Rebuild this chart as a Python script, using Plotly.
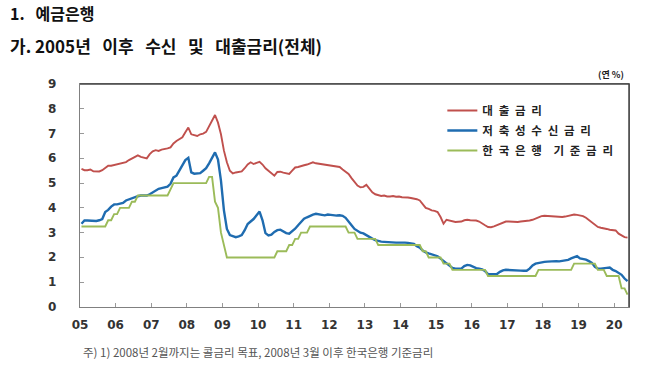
import plotly.graph_objects as go

# ---- data (monthly, Jan 2005 – May 2020) ----
year_labels = ["05", "06", "07", "08", "09", "10", "11", "12", "13", "14",
               "15", "16", "17", "18", "19", "20"]
y_ticks = [0, 1, 2, 3, 4, 5, 6, 7, 8, 9]
n_months = 185

loan_rate = [  # 대출금리
    5.57, 5.52, 5.52, 5.55, 5.48, 5.46, 5.47, 5.52, 5.62, 5.70, 5.70, 5.73,
    5.77, 5.78, 5.80, 5.85, 5.93, 6.00, 6.06, 6.12, 6.06, 6.03, 6.00, 6.17,
    6.28, 6.33, 6.30, 6.35, 6.37, 6.40, 6.44, 6.60, 6.70, 6.77, 6.85, 7.05,
    7.24, 6.97, 6.92, 6.90, 6.97, 7.00, 7.07, 7.30, 7.55, 7.75, 7.44, 6.97,
    6.31, 5.84, 5.50, 5.39, 5.43, 5.45, 5.47, 5.60, 5.75, 5.84, 5.77, 5.82,
    5.86, 5.75, 5.60, 5.50, 5.40, 5.30, 5.45, 5.46, 5.42, 5.38, 5.37, 5.50,
    5.63, 5.65, 5.70, 5.72, 5.75, 5.80, 5.84, 5.80, 5.78, 5.76, 5.75, 5.74,
    5.72, 5.70, 5.68, 5.65, 5.55, 5.45, 5.37, 5.20, 5.05, 4.90, 4.83, 4.85,
    4.93, 4.80, 4.63, 4.55, 4.50, 4.48, 4.50, 4.46, 4.46, 4.48, 4.45, 4.46,
    4.43, 4.44, 4.42, 4.40, 4.39, 4.35, 4.30, 4.15, 4.00, 3.96, 3.90, 3.88,
    3.83, 3.63, 3.36, 3.52, 3.48, 3.45, 3.43, 3.44, 3.45, 3.50, 3.52, 3.50,
    3.50, 3.49, 3.45, 3.39, 3.30, 3.23, 3.22, 3.25, 3.30, 3.36, 3.40, 3.45,
    3.45, 3.44, 3.43, 3.43, 3.45, 3.46, 3.45, 3.49, 3.52, 3.58, 3.64, 3.67,
    3.68, 3.67, 3.67, 3.66, 3.65, 3.63, 3.63, 3.65, 3.68, 3.70, 3.73, 3.72,
    3.70, 3.67, 3.60, 3.50, 3.40, 3.30, 3.23, 3.20, 3.16, 3.15, 3.12, 3.10,
    3.09, 2.96, 2.88, 2.82, 2.80,
]

deposit_rate = [  # 저축성수신금리
    3.36, 3.49, 3.49, 3.48, 3.47, 3.47, 3.50, 3.55, 3.83, 3.92, 4.05, 4.14,
    4.14, 4.17, 4.20, 4.30, 4.35, 4.40, 4.45, 4.47, 4.50, 4.50, 4.50, 4.55,
    4.63, 4.72, 4.77, 4.80, 4.83, 4.86, 4.97, 5.23, 5.30, 5.50, 5.75, 5.93,
    6.02, 5.43, 5.38, 5.38, 5.40, 5.50, 5.60, 5.80, 6.05, 6.24, 5.95, 5.10,
    3.90, 3.15, 2.90, 2.85, 2.82, 2.85, 2.90, 3.10, 3.35, 3.45, 3.55, 3.70,
    3.85, 3.50, 2.98, 2.89, 2.92, 3.03, 3.10, 3.12, 3.05, 2.98, 2.96, 3.05,
    3.16, 3.30, 3.45, 3.56, 3.62, 3.68, 3.73, 3.76, 3.75, 3.72, 3.70, 3.73,
    3.72, 3.70, 3.69, 3.70, 3.68, 3.60, 3.43, 3.30, 3.15, 3.07, 3.00, 2.97,
    2.89, 2.82, 2.76, 2.70, 2.66, 2.64, 2.63, 2.62, 2.60, 2.58, 2.60, 2.60,
    2.61, 2.60, 2.59, 2.57, 2.55, 2.45, 2.40, 2.28, 2.20, 2.16, 2.12, 2.09,
    2.05, 1.95, 1.85, 1.75, 1.65, 1.58, 1.55, 1.55, 1.55, 1.65, 1.70, 1.68,
    1.62, 1.57, 1.55, 1.52, 1.45, 1.33, 1.32, 1.31, 1.33, 1.42, 1.48, 1.50,
    1.50, 1.50, 1.49, 1.48, 1.47, 1.46, 1.46, 1.55, 1.68, 1.75, 1.78, 1.80,
    1.82, 1.83, 1.84, 1.86, 1.85, 1.84, 1.85, 1.88, 1.90, 1.96, 2.00, 2.05,
    1.96, 1.94, 1.91, 1.85, 1.78, 1.62, 1.55, 1.55, 1.55, 1.58, 1.59, 1.50,
    1.45, 1.38, 1.30, 1.15, 1.04,
]

base_rate = [  # 한국은행 기준금리 (2008.2월까지 콜금리 목표)
    3.25, 3.25, 3.25, 3.25, 3.25, 3.25, 3.25, 3.25, 3.25, 3.50, 3.50, 3.75,
    3.75, 4.00, 4.00, 4.00, 4.00, 4.25, 4.25, 4.50, 4.50, 4.50, 4.50, 4.50,
    4.50, 4.50, 4.50, 4.50, 4.50, 4.50, 4.75, 5.00, 5.00, 5.00, 5.00, 5.00,
    5.00, 5.00, 5.00, 5.00, 5.00, 5.00, 5.00, 5.25, 5.25, 4.25, 4.00, 3.00,
    2.50, 2.00, 2.00, 2.00, 2.00, 2.00, 2.00, 2.00, 2.00, 2.00, 2.00, 2.00,
    2.00, 2.00, 2.00, 2.00, 2.00, 2.00, 2.25, 2.25, 2.25, 2.25, 2.50, 2.50,
    2.75, 2.75, 3.00, 3.00, 3.00, 3.25, 3.25, 3.25, 3.25, 3.25, 3.25, 3.25,
    3.25, 3.25, 3.25, 3.25, 3.25, 3.25, 3.00, 3.00, 3.00, 2.75, 2.75, 2.75,
    2.75, 2.75, 2.75, 2.75, 2.50, 2.50, 2.50, 2.50, 2.50, 2.50, 2.50, 2.50,
    2.50, 2.50, 2.50, 2.50, 2.50, 2.50, 2.50, 2.25, 2.25, 2.00, 2.00, 2.00,
    2.00, 2.00, 1.75, 1.75, 1.75, 1.50, 1.50, 1.50, 1.50, 1.50, 1.50, 1.50,
    1.50, 1.50, 1.50, 1.50, 1.50, 1.25, 1.25, 1.25, 1.25, 1.25, 1.25, 1.25,
    1.25, 1.25, 1.25, 1.25, 1.25, 1.25, 1.25, 1.25, 1.25, 1.25, 1.50, 1.50,
    1.50, 1.50, 1.50, 1.50, 1.50, 1.50, 1.50, 1.50, 1.50, 1.50, 1.75, 1.75,
    1.75, 1.75, 1.75, 1.75, 1.75, 1.75, 1.50, 1.50, 1.50, 1.25, 1.25, 1.25,
    1.25, 1.25, 0.75, 0.75, 0.50,
]

SP = "\u2002"  # wide inter-character spacing as in the original legend
series_names = [SP.join("대출금리"), SP.join("저축성수신금리"),
                SP.join("한국은행") + SP + SP + SP.join("기준금리")]
series_colors = ["#c0504d", "#1f6cb0", "#9bbb59"]

month_idx = list(range(n_months))

W, H = 647, 370
L, R, T, B = 80, 18, 84, 63
PW, PH = W - L - R, H - T - B


def px_x(x):
    return (x - L) / PW


def px_y(y):
    return (H - B - y) / PH


fig = go.Figure()
for i, (name, vals, col) in enumerate(zip(series_names,
                                          [loan_rate, deposit_rate, base_rate],
                                          series_colors)):
    fig.add_trace(go.Scatter(
        x=month_idx, y=vals, mode="lines", name=name,
        line=dict(color=col, width=2.4 if i == 1 else 1.9),
        legendgroup=str(i),
    ))

tick_font = dict(family="DejaVu Sans", size=12, color="#333333", weight="bold")

fig.update_layout(
    width=W, height=H,
    margin=dict(l=L, r=R, t=T, b=B),
    paper_bgcolor="white", plot_bgcolor="white",
    showlegend=True,
    legend=dict(
        x=0.66, y=px_y(96), xanchor="left", yanchor="top",
        bgcolor="rgba(0,0,0,0)", borderwidth=0,
        font=dict(family="Noto Sans CJK KR", size=11.5, color="#222222", weight="bold"),
        tracegroupgap=1, itemwidth=30,
    ),
    xaxis=dict(
        range=[-0.5, n_months - 0.5],
        tickmode="array",
        tickvals=[12 * k - 0.5 for k in range(len(year_labels))],
        ticktext=year_labels,
        ticks="inside", ticklen=4, tickcolor="#999999",
        showline=True, linecolor="#808080", linewidth=1.2, mirror=True,
        showgrid=False, zeroline=False,
        tickfont=tick_font, ticklabelstandoff=6,
    ),
    yaxis=dict(
        range=[0, 9], tickmode="array", tickvals=y_ticks,
        showticklabels=False,
        ticks="inside", ticklen=4, tickcolor="#999999",
        showline=True, linecolor="#808080", linewidth=1.2, mirror=True,
        showgrid=False, zeroline=False,
    ),
    shapes=[
        dict(type="line", xref="paper", yref="paper", x0=0, x1=1, y0=1, y1=1,
             line=dict(color="#444444", width=1.5), layer="above"),
        dict(type="line", xref="paper", yref="paper", x0=1, x1=1, y0=0, y1=1,
             line=dict(color="#444444", width=1.5), layer="above"),
    ],
)

# y tick labels
for v in y_ticks:
    fig.add_annotation(text=str(v), xref="paper", yref="y", x=px_x(58), y=v,
                       xanchor="right", yanchor="middle", showarrow=False,
                       font=tick_font)

NB = "\u00a0"
annots = [
    dict(text="1." + NB * 3 + "예금은행", x=8, y=13, size=16),
    dict(text="가." + NB + "2005년" + NB * 3 + "이후" + NB * 3 + "수신" + NB * 3 + "및"
         + NB * 3 + "대출금리(전체)", x=8, y=46, size=17),
]
for a in annots:
    fig.add_annotation(text=a["text"], xref="paper", yref="paper",
                       x=px_x(a["x"]), y=px_y(a["y"]),
                       xanchor="left", yanchor="middle", showarrow=False,
                       font=dict(family="Noto Sans CJK KR", size=a["size"], color="#111111",
                                 weight="bold"))

fig.add_annotation(text="(연 %)", xref="paper", yref="paper",
                   x=px_x(626), y=px_y(74),
                   xanchor="right", yanchor="middle", showarrow=False,
                   font=dict(family="Noto Sans CJK KR", size=9, color="#222222", weight="bold"))

fig.add_annotation(text="주) 1) 2008년 2월까지는 콜금리 목표, 2008년 3월 이후 한국은행 기준금리",
                   xref="paper", yref="paper",
                   x=px_x(81), y=px_y(352),
                   xanchor="left", yanchor="middle", showarrow=False,
                   font=dict(family="Noto Sans CJK KR", size=11.5, color="#555555"))

fig.write_html("out.html", config={"displayModeBar": False},
               post_script="document.body.style.margin='0';")
